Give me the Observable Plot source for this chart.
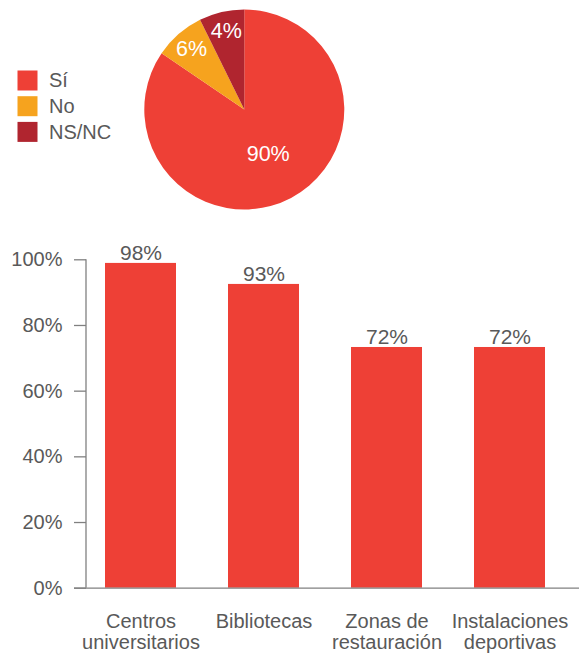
<!DOCTYPE html>
<html>
<head>
<meta charset="utf-8">
<script src="https://cdn.jsdelivr.net/npm/d3@7"></script>
<script src="https://cdn.jsdelivr.net/npm/@observablehq/plot@0.6"></script>
<style>
  html, body { margin: 0; padding: 0; background: #fff; }
  #chart { width: 579px; height: 655px; }
  #chart svg { display: block; }
</style>
</head>
<body>
<div id="chart"></div>
<script>
// ---- Pie data ----
const pieCats = ["Sí", "No", "NS/NC"];
const pieValues = [84.5, 8.2, 7.3];        // slice sizes as drawn
const pieLabels = ["90%", "6%", "4%"];      // printed labels
const pieColors = ["#EE4036", "#F6A31E", "#B0252F"];

// ---- Bar data ----
const barCats = ["Centros universitarios", "Bibliotecas", "Zonas de restauración", "Instalaciones deportivas"];
const barTickLabels = ["Centros\nuniversitarios", "Bibliotecas", "Zonas de\nrestauración", "Instalaciones\ndeportivas"];
const barValues = [98.9, 92.5, 73.3, 73.3];
const barLabels = ["98%", "93%", "72%", "72%"];
const yTicks = [0, 20, 40, 60, 80, 100];

const FONT = "'Liberation Sans', Arial, Helvetica, sans-serif";
const TEXT = "#595959";
const AXIS = "#808080";

// ---------- Pie plot ----------
const pieData = pieCats.map((cat, i) => ({cat, value: pieValues[i], label: pieLabels[i]}));
const cx = 244.3, cy = 109.5, R = 100;
const arcs = d3.pie().sort(null).value(d => d.value)(pieData);
arcs.forEach(a => {
  const mid = (a.startAngle + a.endAngle) / 2;
  const k = a.data.value > 50 ? 0.5 : 0.81;
  a.data.lx = cx + Math.sin(mid) * R * k;
  a.data.ly = cy - Math.cos(mid) * R * k;
});

function pieSlices(index, scales) {
  const g = d3.create("svg:g").attr("transform", `translate(${scales.x(cx)},${scales.y(cy)})`);
  g.selectAll("path").data(arcs).join("path")
    .attr("d", d3.arc().innerRadius(0).outerRadius(R))
    .attr("fill", d => scales.color(d.data.cat));
  return g.node();
}

const piePlot = Plot.plot({
  width: 579, height: 225,
  margin: 0,
  style: {fontFamily: FONT, background: "transparent"},
  x: {domain: [0, 579], range: [0, 579], axis: null},
  y: {domain: [0, 225], range: [0, 225], axis: null},
  color: {domain: pieCats, range: pieColors},
  marks: [
    // legend swatches
    Plot.rect(pieData, {x1: 17.5, x2: 37.5, y1: (d, i) => 70.5 + i * 25.7, y2: (d, i) => 90.5 + i * 25.7, fill: "cat"}),
    Plot.text(pieData, {x: 48.5, y: (d, i) => 80.5 + i * 25.7, text: "cat", textAnchor: "start", fill: TEXT, fontSize: 20}),
    pieSlices,
    Plot.text(pieData, {x: "lx", y: "ly", text: "label", fill: "white", fontSize: 21.5})
  ]
});

// ---------- Bar plot ----------
const barData = barCats.map((cat, i) => ({cat, value: barValues[i], label: barLabels[i]}));

// vertical y-axis line along the left edge of the plot area
function yAxisLine(index, scales, values, dimensions) {
  const x = dimensions.marginLeft;
  return d3.create("svg:line")
    .attr("x1", x).attr("x2", x)
    .attr("y1", scales.y(100)).attr("y2", scales.y(0))
    .attr("stroke", AXIS).attr("stroke-width", 1.3).node();
}

const barPlot = Plot.plot({
  width: 579, height: 430,
  marginTop: 34.3, marginBottom: 67.3, marginLeft: 86, marginRight: 0,
  style: {fontFamily: FONT, fontSize: "20px", color: TEXT, background: "transparent"},
  x: {domain: barCats, range: [79, 571], paddingInner: 0.4228, paddingOuter: 0.2114, axis: null},
  y: {domain: [0, 100], axis: null},
  marks: [
    Plot.barY(barData, {x: "cat", y: "value", fill: "#EE4036"}),
    Plot.ruleY([0], {stroke: AXIS, strokeWidth: 1.3, insetLeft: -12}),
    yAxisLine,
    Plot.axisY({ticks: yTicks, tickFormat: d => d + "%", tickSize: 12, tickPadding: 12, stroke: AXIS, strokeWidth: 1.3, fill: TEXT, fontSize: 20, label: null}),
    Plot.axisX({tickSize: 0, tickPadding: 25, tickFormat: d => barTickLabels[barCats.indexOf(d)], fill: TEXT, fontSize: 20, lineHeight: 1.05, label: null}),
    Plot.text(barData, {x: "cat", y: "value", text: "label", lineAnchor: "bottom", dy: -3, fill: TEXT, fontSize: 21})
  ]
});

const chart = document.getElementById("chart");
chart.appendChild(piePlot);
chart.appendChild(barPlot);
</script>
</body>
</html>
